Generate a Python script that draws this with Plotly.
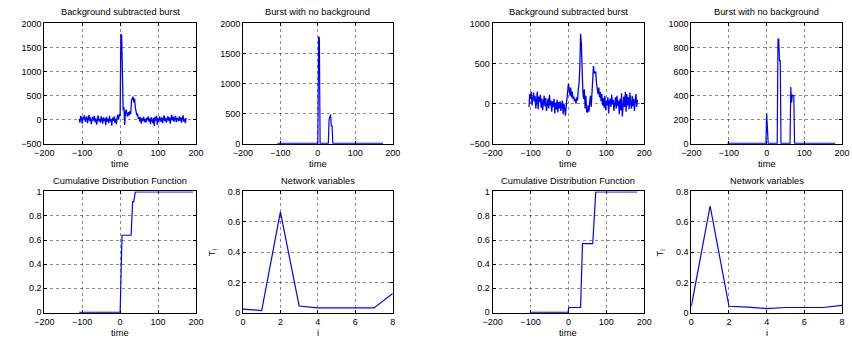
import numpy as np
import plotly.graph_objects as go

W, H = 852, 345

# ---------------- data ----------------
# left burst: time grid -108..174 step 2
left_t0, left_step = -108, 2
left_bgsub = [
    20, -60, 80, 40, -80, 60, 10, 90, -40, 30,
    70, -70, 20, 100, -30, 50, -90, 10, 60, -20,
    80, -50, 30, -100, 40, 90, -30, 20, -60, 70,
    10, -80, 50, -20, 30, -110, 60, -40, 20, -70,
    80, -30, 10, -120, 40, -20, 70, -60, 20, -90,
    50, 100, 10, 120, 80, 1780, 1750, 700, 200, 260,
    -110, 160, 210, 110, 70, 160, 90, 180, 120, 400,
    430, 480, 360, 440, 260, 170, 90, 130, 20, 60,
    -40, 50, -80, 30, -20, 60, -50, 20, -60, 40,
    -10, 70, -40, 30, -90, 50, 10, -70, 40, -130,
    60, -20, 80, -100, 30, -50, 70, 10, -40, 50,
    -70, 20, 90, -30, 40, -60, 10, 70, -20, 50,
    -80, 30, 100, -10, 60, -40, 20, 80, -50, 40,
    10, -30, 70, -20, 50, -60, 30, 90, -40, 20,
    -70, 40,
]
# burst with no background (non-zero bins only)
left_noback_bins = {2: 1780, 4: 1760, 30: 400, 32: 480, 34: 480, 36: 290, 38: 290}
# cumulative distribution
left_cdf_t = [-108, 0, 5, 29, 33, 36, 40, 192]
left_cdf_v = [0, 0, 0.64, 0.64, 0.92, 0.92, 1.0, 1.0]
# network variables
net_i = [0, 1, 2, 3, 4, 5, 6, 7, 8]
left_T = [0.024, 0.015, 0.665, 0.045, 0.032, 0.032, 0.032, 0.032, 0.128]

# right burst: time grid -104..182 step 2
right_t0, right_step = -104, 2
right_bgsub = [
    -40, 120, 60, 150, -20, 80, 140, 30, 100, -60,
    50, 150, -70, 90, 20, 110, -50, 60, -80, 40,
    100, -30, 70, -90, 20, 60, -60, 110, -20, 40,
    -100, 30, -40, 60, -120, 10, -70, 50, -110, 20,
    -60, 30, -90, -20, 40, -130, 0, -50, -150, -40,
    60, 120, 250, 180, 100, 200, 80, 150, 60, 90,
    30, 60, 0, 80, 40, 180, 250, 450, 870, 750,
    300, 150, 60, 180, -60, 100, -100, -110, -20, -100,
    20, 100, -40, 200, 330, 470, 380, 400, 400, 250,
    180, 120, 200, 80, 150, 30, 120, -20, 70, -50,
    100, -80, 40, -20, 80, -120, 30, 60, -40, 110,
    -10, 50, -90, 20, 80, -60, 100, -30, 40, -130,
    60, -80, 130, -160, 20, 90, -40, 150, -100, 120,
    -20, 80, -70, 140, 0, -60, 100, -30, 60, -90,
    40, 120, -40, 50,
]
right_noback_bins = {0: 250, 30: 870, 32: 870, 34: 690, 36: 690,
                     64: 470, 66: 340, 68: 400, 70: 400, 72: 400}
right_cdf_t = [-102, -1, 1, 32, 37, 64, 72, 181]
right_cdf_v = [0, 0, 0.04, 0.04, 0.57, 0.57, 1.0, 1.0]
right_T = [0.043, 0.704, 0.043, 0.038, 0.028, 0.035, 0.035, 0.035, 0.049]

titles = ["Background subtracted burst", "Burst with no background",
          "Cumulative Distribution Function", "Network variables"]

# ---------------- build ----------------
def grid(t0, step, n):
    return t0 + step * np.arange(n)

lt = grid(left_t0, left_step, len(left_bgsub))
rt = grid(right_t0, right_step, len(right_bgsub))
l_nb = np.array([left_noback_bins.get(int(t), 0) for t in lt])
r_nb = np.array([right_noback_bins.get(int(t), 0) for t in rt])

px_x = [(35, 190), (238, 391), (493, 648), (696, 850)]
px_y = [(19, 143), (192, 317)]

def xd(k):
    return [px_x[k][0] / W, px_x[k][1] / W]

def yd(r):
    return [1 - px_y[r][1] / H, 1 - px_y[r][0] / H]

fig = go.Figure()
BLUE = "#0000ff"
FONT = "Liberation Sans, Arial, Helvetica, sans-serif"

# (col, row, x, y, xrange, yrange, ydtick, xdtick, linewidth)
panels = [
    (0, 0, lt, left_bgsub, [-200, 200], [-500, 2000], 500, 100, 1.3),
    (1, 0, lt, l_nb, [-200, 200], [-8, 2000], 500, 100, 1.2),
    (0, 1, left_cdf_t, left_cdf_v, [-200, 200], [-0.004, 1.004], 0.2, 100, 1.2),
    (1, 1, net_i, left_T, [0, 8], [0, 0.8], 0.2, 2, 1.2),
    (2, 0, rt, right_bgsub, [-200, 200], [-500, 1000], 500, 100, 1.3),
    (3, 0, rt, r_nb, [-200, 200], [-4, 1000], 200, 100, 1.2),
    (2, 1, right_cdf_t, right_cdf_v, [-200, 200], [-0.004, 1.004], 0.2, 100, 1.2),
    (3, 1, net_i, right_T, [0, 8], [0, 0.8], 0.2, 2, 1.2),
]

axis_common = dict(
    showline=True, linecolor="black", linewidth=1, mirror="ticks",
    ticks="inside", ticklen=3, tickcolor="black", tickwidth=1,
    showgrid=True, gridcolor="rgba(0,0,0,0.45)", griddash="dot", gridwidth=1,
    zeroline=False, layer="below traces",
    tickfont=dict(family=FONT, size=9, color="black"),
)

for n, (c, r, x, y, xr, yr, ydt, xdt, lw) in enumerate(panels, start=1):
    sfx = "" if n == 1 else str(n)
    fig.add_trace(go.Scatter(x=list(x), y=list(y), mode="lines",
                             line=dict(color=BLUE, width=lw),
                             xaxis="x" + sfx, yaxis="y" + sfx,
                             showlegend=False, hoverinfo="skip"))
    fig.layout["xaxis" + sfx] = dict(axis_common, domain=xd(c), range=xr,
                                      dtick=xdt, tick0=0, anchor="y" + sfx)
    fig.layout["yaxis" + sfx] = dict(axis_common, domain=yd(r), range=yr,
                                      dtick=ydt, tick0=0, anchor="x" + sfx)

ann = []
title_y = [1 - 7 / H, 1 - 181 / H]
xlab_y = [1 - 164 / H, 1 - 337.5 / H]
for (c, r, *_), k in zip(panels, [0, 1, 2, 3, 0, 1, 2, 3]):
    cx = (xd(c)[0] + xd(c)[1]) / 2
    ann.append(dict(text=titles[k], x=cx, y=title_y[r], xref="paper", yref="paper",
                    showarrow=False, xanchor="center", yanchor="middle",
                    font=dict(family=FONT, size=9.3, color="black")))
    ann.append(dict(text="i" if k == 3 else "time", x=cx, y=xlab_y[r],
                    xref="paper", yref="paper", showarrow=False,
                    xanchor="center", yanchor="middle",
                    font=dict(family=FONT, size=9.3, color="black")))
for px in (207, 665):
    ann.append(dict(text="T<sub>i</sub>", x=px / W, y=1 - 255 / H,
                    xref="paper", yref="paper", showarrow=False, textangle=-90,
                    xanchor="center", yanchor="middle",
                    font=dict(family=FONT, size=9.3, color="black")))

fig.update_layout(width=W, height=H, margin=dict(l=0, r=0, t=0, b=0),
                  paper_bgcolor="white", plot_bgcolor="white",
                  annotations=ann, showlegend=False)

fig.write_html("out.html")
